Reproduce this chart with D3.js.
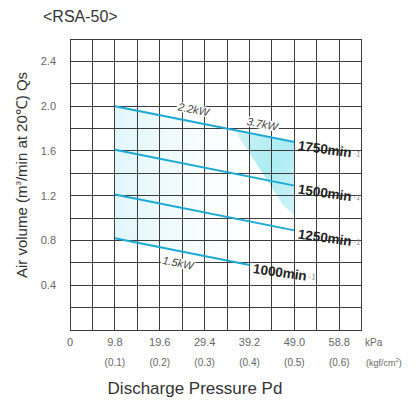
<!DOCTYPE html>
<html>
<head>
<meta charset="utf-8">
<script src="https://cdn.jsdelivr.net/npm/d3@7"></script>
<style>
  body { margin: 0; background: #fff; }
  svg { display: block; font-family: "Liberation Sans", Arial, sans-serif; }
</style>
</head>
<body>
<svg id="chart" width="416" height="402"></svg>
<script>
// discharge pressure ticks (kPa) and their kgf/cm2 equivalents
var xTicks = [0, 9.8, 19.6, 29.4, 39.2, 49.0, 58.8];
var xLabels = ["0", "9.8", "19.6", "29.4", "39.2", "49.0", "58.8"];
var xSubLabels = ["", "(0.1)", "(0.2)", "(0.3)", "(0.4)", "(0.5)", "(0.6)"];
var yTicks = [0.4, 0.8, 1.2, 1.6, 2.0, 2.4];
var yLabels = ["0.4", "0.8", "1.2", "1.6", "2.0", "2.4"];

// one line per rotating speed
var speeds = ["1750", "1500", "1250", "1000"];
var startP = [9.8, 9.8, 9.8, 9.8];
var endP = [49.0, 49.0, 49.0, 39.2];
var startQ = [2.0, 1.61, 1.21, 0.82];
var endQ = [1.68, 1.29, 0.89, 0.58];

// motor power labels
var powerText = ["2.2kW", "3.7kW", "1.5kW"];
var powerP = [27.0, 42.0, 23.6];
var powerQ = [1.97, 1.84, 0.60];

// 3.7kW area outline
var zoneP = [36.2, 49.0, 49.0, 46.5];
var zoneQ = [1.77, 1.68, 1.02, 1.12];

var svg = d3.select("#chart");
var x = d3.scaleLinear().domain([0, 63.7]).range([70, 361.7]);
var y = d3.scaleLinear().domain([0, 2.6]).range([330, 39]);
var line = d3.line().x(d => x(d[0])).y(d => y(d[1]));

var defs = svg.append("defs");
var grad = defs.append("linearGradient").attr("id", "pale")
  .attr("x1", "0").attr("x2", "1").attr("y1", "0").attr("y2", "0");
grad.append("stop").attr("offset", "0").attr("stop-color", "#e2f7fb");
grad.append("stop").attr("offset", "0.35").attr("stop-color", "#f1fbfd");
grad.append("stop").attr("offset", "0.8").attr("stop-color", "#ffffff").attr("stop-opacity", 0);

var grad2 = defs.append("linearGradient").attr("id", "zone")
  .attr("x1", "0").attr("x2", "1").attr("y1", "0").attr("y2", "1");
grad2.append("stop").attr("offset", "0").attr("stop-color", "#cdf3f7");
grad2.append("stop").attr("offset", "0.5").attr("stop-color", "#acecf3");
grad2.append("stop").attr("offset", "1").attr("stop-color", "#d2f5f7");

// pale wash between top and bottom curves
var paleArea = [[startP[0], startQ[0]], [endP[0], endQ[0]], [endP[3], endQ[3]], [startP[3], startQ[3]]];
svg.append("path").attr("d", line(paleArea) + "Z").attr("fill", "url(#pale)");

svg.append("path")
  .attr("d", line(zoneP.map((p, i) => [p, zoneQ[i]])) + "Z")
  .attr("fill", "url(#zone)");

// grid
var g = svg.append("g").attr("stroke", "#3c3c3c").attr("stroke-width", 1)
  .attr("shape-rendering", "crispEdges");
d3.range(0, 14).forEach(function (i) {
  g.append("line").attr("x1", x(i * 4.9)).attr("x2", x(i * 4.9))
    .attr("y1", y(0)).attr("y2", y(2.6));
});
d3.range(0, 14).forEach(function (i) {
  g.append("line").attr("x1", x(0)).attr("x2", x(63.7))
    .attr("y1", y(i * 0.2)).attr("y2", y(i * 0.2));
});

// curves
svg.selectAll(".curve").data(speeds).enter().append("line")
  .attr("class", "curve")
  .attr("x1", (d, i) => x(startP[i])).attr("y1", (d, i) => y(startQ[i]))
  .attr("x2", (d, i) => x(endP[i])).attr("y2", (d, i) => y(endQ[i]))
  .attr("stroke", "#1ba9d5").attr("stroke-width", 2);

// power labels with white box behind them
powerText.forEach(function (t, i) {
  var lg = svg.append("g")
    .attr("transform", "translate(" + x(powerP[i]) + "," + y(powerQ[i]) + ") rotate(11)");
  lg.append("rect").attr("x", -17).attr("y", -5).attr("width", 34).attr("height", 10).attr("fill", "#fff");
  lg.append("text").attr("text-anchor", "middle").attr("dy", "0.35em")
    .attr("font-size", 11).attr("font-style", "italic").attr("fill", "#444").text(t);
});

// speed labels
speeds.forEach(function (s, i) {
  var t = svg.append("text")
    .attr("transform", "translate(" + (x(endP[i]) + 3) + "," + (y(endQ[i]) + 8) + ") rotate(8)")
    .attr("font-size", 13.5).attr("font-weight", "bold").attr("fill", "#222");
  t.append("tspan").text(s + "min");
  t.append("tspan").attr("font-size", 8).attr("font-weight", "normal").attr("fill", "#888")
    .attr("dy", -2).attr("dx", 2).text("-1");
});

// axis labels
svg.selectAll(".ylab").data(yTicks).enter().append("text")
  .attr("x", 56).attr("y", d => y(d)).attr("dy", "0.35em")
  .attr("text-anchor", "end").attr("font-size", 11).attr("fill", "#666")
  .text((d, i) => yLabels[i]);

svg.selectAll(".xlab").data(xTicks).enter().append("text")
  .attr("x", d => x(d)).attr("y", 346)
  .attr("text-anchor", "middle").attr("font-size", 11).attr("fill", "#666")
  .text((d, i) => xLabels[i]);

svg.selectAll(".xsub").data(xTicks).enter().append("text")
  .attr("x", d => x(d)).attr("y", 366)
  .attr("text-anchor", "middle").attr("font-size", 10).attr("fill", "#666")
  .text((d, i) => xSubLabels[i]);

svg.append("text").attr("x", 365).attr("y", 346).attr("font-size", 10).attr("fill", "#666").text("kPa");
var kg = svg.append("text").attr("x", 366).attr("y", 366).attr("font-size", 9).attr("fill", "#666");
kg.append("tspan").text("(kgf/cm");
kg.append("tspan").attr("font-size", 6).attr("dy", -4).text("2");
kg.append("tspan").attr("dy", 4).text(")");

svg.append("text").attr("x", 43).attr("y", 22).attr("font-size", 16).attr("fill", "#333").text("<RSA-50>");

svg.append("text").attr("x", 195).attr("y", 394).attr("text-anchor", "middle")
  .attr("font-size", 17).attr("fill", "#333").text("Discharge Pressure Pd");

var yt = svg.append("text").attr("transform", "translate(27,175) rotate(-90)")
  .attr("text-anchor", "middle").attr("font-size", 15).attr("fill", "#333");
yt.append("tspan").text("Air volume (m");
yt.append("tspan").attr("font-size", 8).attr("dy", -6).text("3");
yt.append("tspan").attr("dy", 6).text("/min at 20\u2103) Qs");
</script>
</body>
</html>
